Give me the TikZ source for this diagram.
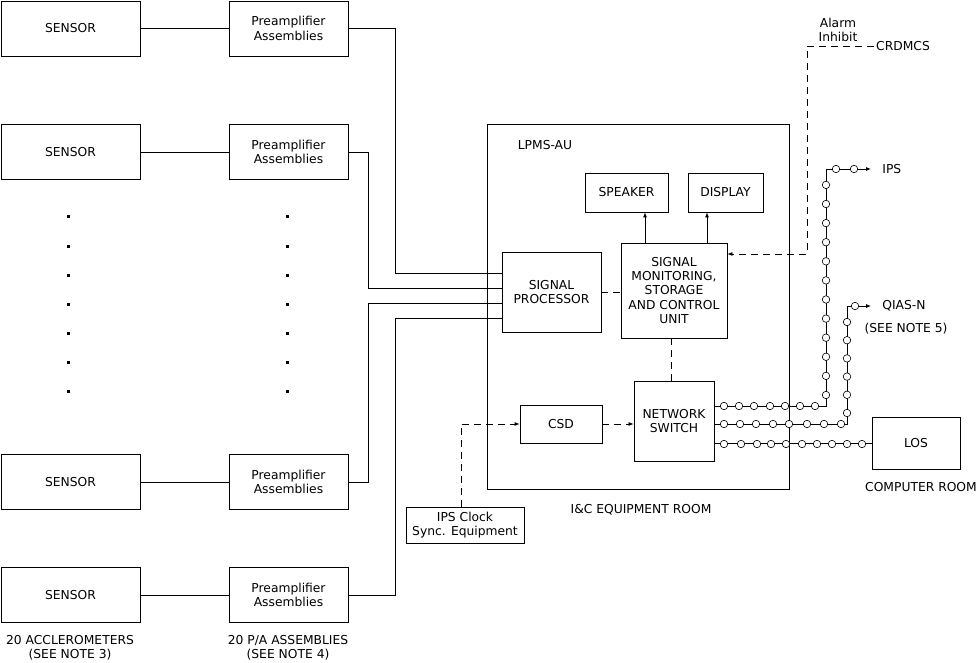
\documentclass[tikz,border=0pt]{standalone}
\usepackage{fontspec}
\setmainfont{DejaVu Sans}
\usetikzlibrary{arrows.meta}

\begin{document}
\begin{tikzpicture}[
x=1pt, y=-1pt,
font=\fontsize{12.3}{14.3}\selectfont,
line width=0.8pt,
>={Latex[length=5pt,width=4pt]},
    B/.style = {rectangle, draw, inner sep=0pt, align=center,% plain boxes
                minimum width=#1},
  B/.default = 80pt,
    L/.style = {align=center, inner sep=2pt},% free texts
  dsh/.style = {dash pattern=on 7pt off 5pt},
 port/.style = {circle, draw, fill=white, inner sep=0pt,% fibre ports
                minimum size=7.5pt, line width=0.6pt},
  dot/.style = {fill, minimum size=3pt, inner sep=0pt},
                        ]
\useasboundingbox (0,0) rectangle (977,663);
% sensors and preamplifiers
\foreach \i/\y in {1/28.5,2/152,3/482,4/595}
{
    \node[B=139pt, minimum height=55pt] (S\i) at (70.5,\y) {SENSOR};
    \node[B=119pt, minimum height=55pt] (P\i) at (288.5,\y) {Preamplifier\\Assemblies};
    \draw (S\i) -- (P\i);
}
\foreach \y in {217,246,...,391}
{
    \node[dot] at (68,\y) {};
    \node[dot] at (287,\y) {};
}
\node[L] at (70,648) {20 ACCLEROMETERS\\(SEE NOTE 3)};
\node[L] at (288,648) {20 P/A ASSEMBLIES\\(SEE NOTE 4)};
% equipment room
\node[B=302pt, minimum height=365pt] (AU) at (638,306.5) {};
\node[L] at (545,145) {LPMS-AU};
\node[L] at (641,510) {I\&C EQUIPMENT ROOM};
\node[B=83pt, minimum height=39pt] (SPK) at (626.5,192.5) {SPEAKER};
\node[B=75pt, minimum height=39pt] (DSP) at (725.5,192.5) {DISPLAY};
\node[B=99pt, minimum height=80pt] (SP) at (551.5,292) {SIGNAL\\PROCESSOR};
\node[B=106pt, minimum height=95pt] (SMC) at (674,290.5)
     {SIGNAL\\MONITORING,\\STORAGE\\AND CONTROL\\UNIT};
\node[B=80pt, minimum height=80pt] (NS) at (674,421) {NETWORK\\SWITCH};
\node[B=82pt, minimum height=38pt] (CSD) at (561,424) {CSD};
\node[B=118pt, minimum height=36pt] (CLK) at (465,525) {IPS Clock\\Sync. Equipment};
% signal cables
\draw (P1.east) -| (395,273) -- ([yshift=19pt]SP.west);
\draw (P2.east) -| (368,288) -- ([yshift=4pt]SP.west);
\draw (P3.east) -| (368,303) -- ([yshift=-11pt]SP.west);
\draw (P4.east) -| (395,318) -- ([yshift=-26pt]SP.west);
\draw[->] (SMC.north -| 645,0) -- (SPK.south -| 645,0);
\draw[->] (SMC.north -| 707,0) -- (DSP.south -| 707,0);
\draw[dsh] (SP.east) -- (SP.east -| SMC.west);
\draw[dsh] (SMC.south -| 671,0) -- (NS.north -| 671,0);
\draw[dsh,->] (CSD.east) -- (CSD.east -| NS.west);
\draw[dsh,->] ([xshift=-4pt]CLK.north) |- (CSD.west);
% outside systems
\node[L] at (838,30) {Alarm\\Inhibit};
\node[L] (CRD) at (903,46) {CRDMCS};
\draw[dsh,->] (CRD.west) -| (807,254) -- ([yshift=36.5pt]SMC.east);
\node[L, anchor=west] (IPS) at (880,169) {IPS};
\node[L, anchor=west] (QIA) at (880,306) {QIAS-N};
\node[L] at (906,329) {(SEE NOTE 5)};
\node[B=88pt, minimum height=52pt] (LOS) at (916,443) {LOS};
\node[L] at (921,487) {COMPUTER ROOM};
% fibre links
\draw[->] ([yshift=15pt]NS.east) -| (826,169) -- ([xshift=-9pt]IPS.west);
\draw[->] ([yshift=-3pt]NS.east) -| (847,306) -- ([xshift=-9pt]QIA.west);
\draw ([yshift=-23pt]NS.east) -- (NS.east |- LOS.west) -- (LOS.west);
\foreach \x in {724,739,754,770,785,800,815}
    \node[port] at (\x,406) {};
\foreach \i in {0,...,11}
    \node[port] at (826,395-19.1*\i) {};
\foreach \x in {836,854}
    \node[port] at (\x,169) {};
\foreach \x in {724,740,756,773,789,807,824,841}
    \node[port] at (\x,424) {};
\foreach \i in {0,...,5}
    \node[port] at (847,413-18.2*\i) {};
\node[port] at (855,306) {};
\foreach \x in {724,741,757,771,786,802,817,832,847,862}
    \node[port] at (\x,444) {};
\end{tikzpicture}
\end{document}
